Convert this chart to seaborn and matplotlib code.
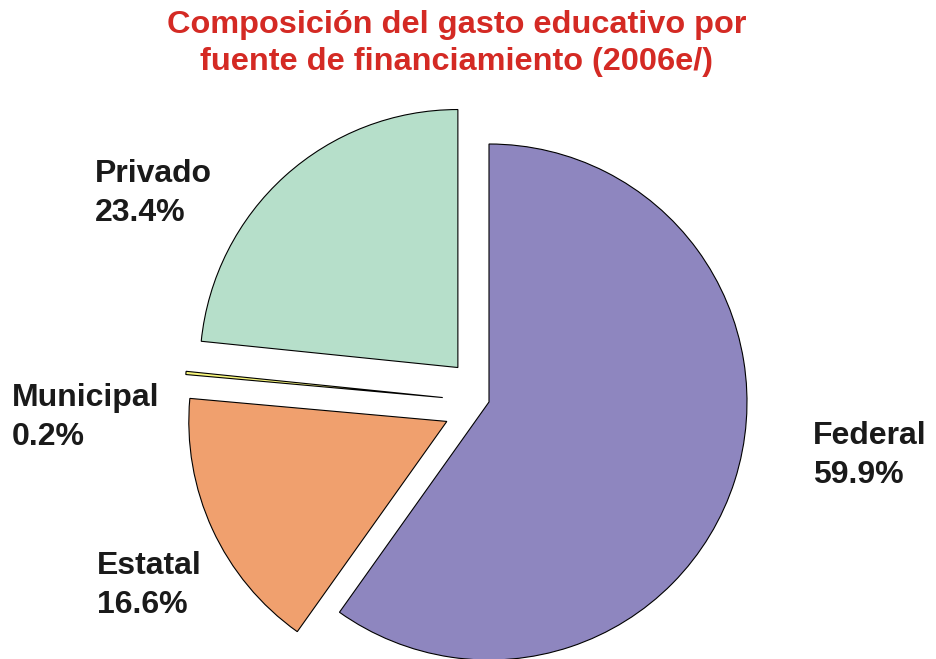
import matplotlib
matplotlib.use("Agg")
import matplotlib.pyplot as plt
import seaborn as sns

# datos del grafico
fuentes = ["Federal", "Estatal", "Municipal", "Privado"]
porcentajes = [59.9, 16.6, 0.2, 23.4]
colores = ["#8e86bf", "#f0a06e", "#f8f77c", "#b6dfca"]
separacion = [0.0, 0.18, 0.18, 0.18]

sns.set_theme(style="white")
plt.rcParams["font.family"] = ["Liberation Sans", "DejaVu Sans"]

W, H = 936, 659
fig = plt.figure(figsize=(W / 100, H / 100), dpi=100)
ax = fig.add_axes([0, 0, 1, 1])

# centro y radio del pastel en pixeles
cx, cy, r = 489, 402, 258

ax.pie(porcentajes, colors=colores, explode=separacion, startangle=90,
       counterclock=False, radius=1,
       wedgeprops={"edgecolor": "black", "linewidth": 0.8})
ax.set_xlim(-cx / r, (W - cx) / r)
ax.set_ylim(-(H - cy) / r, cy / r)
ax.set_aspect("auto")
ax.axis("off")

# etiquetas
pos_etiquetas = {"Federal": (813, 421), "Estatal": (97, 551),
                 "Municipal": (12, 383), "Privado": (95, 159)}
for nombre, valor in zip(fuentes, porcentajes):
    x, y = pos_etiquetas[nombre]
    fig.text(x / W, 1 - y / H, f"{nombre}\n{valor:.1f}%", fontsize=23,
             fontweight="bold", color="#1a1a1a", ha="left", va="top",
             linespacing=1.37)

fig.text(457 / W, 1 - 10 / H,
         "Composición del gasto educativo por\nfuente de financiamiento (2006e/)",
         fontsize=23.4, fontweight="bold", color="#d42a24", ha="center",
         va="top", linespacing=1.31)

fig.savefig("out.png", dpi=100)
